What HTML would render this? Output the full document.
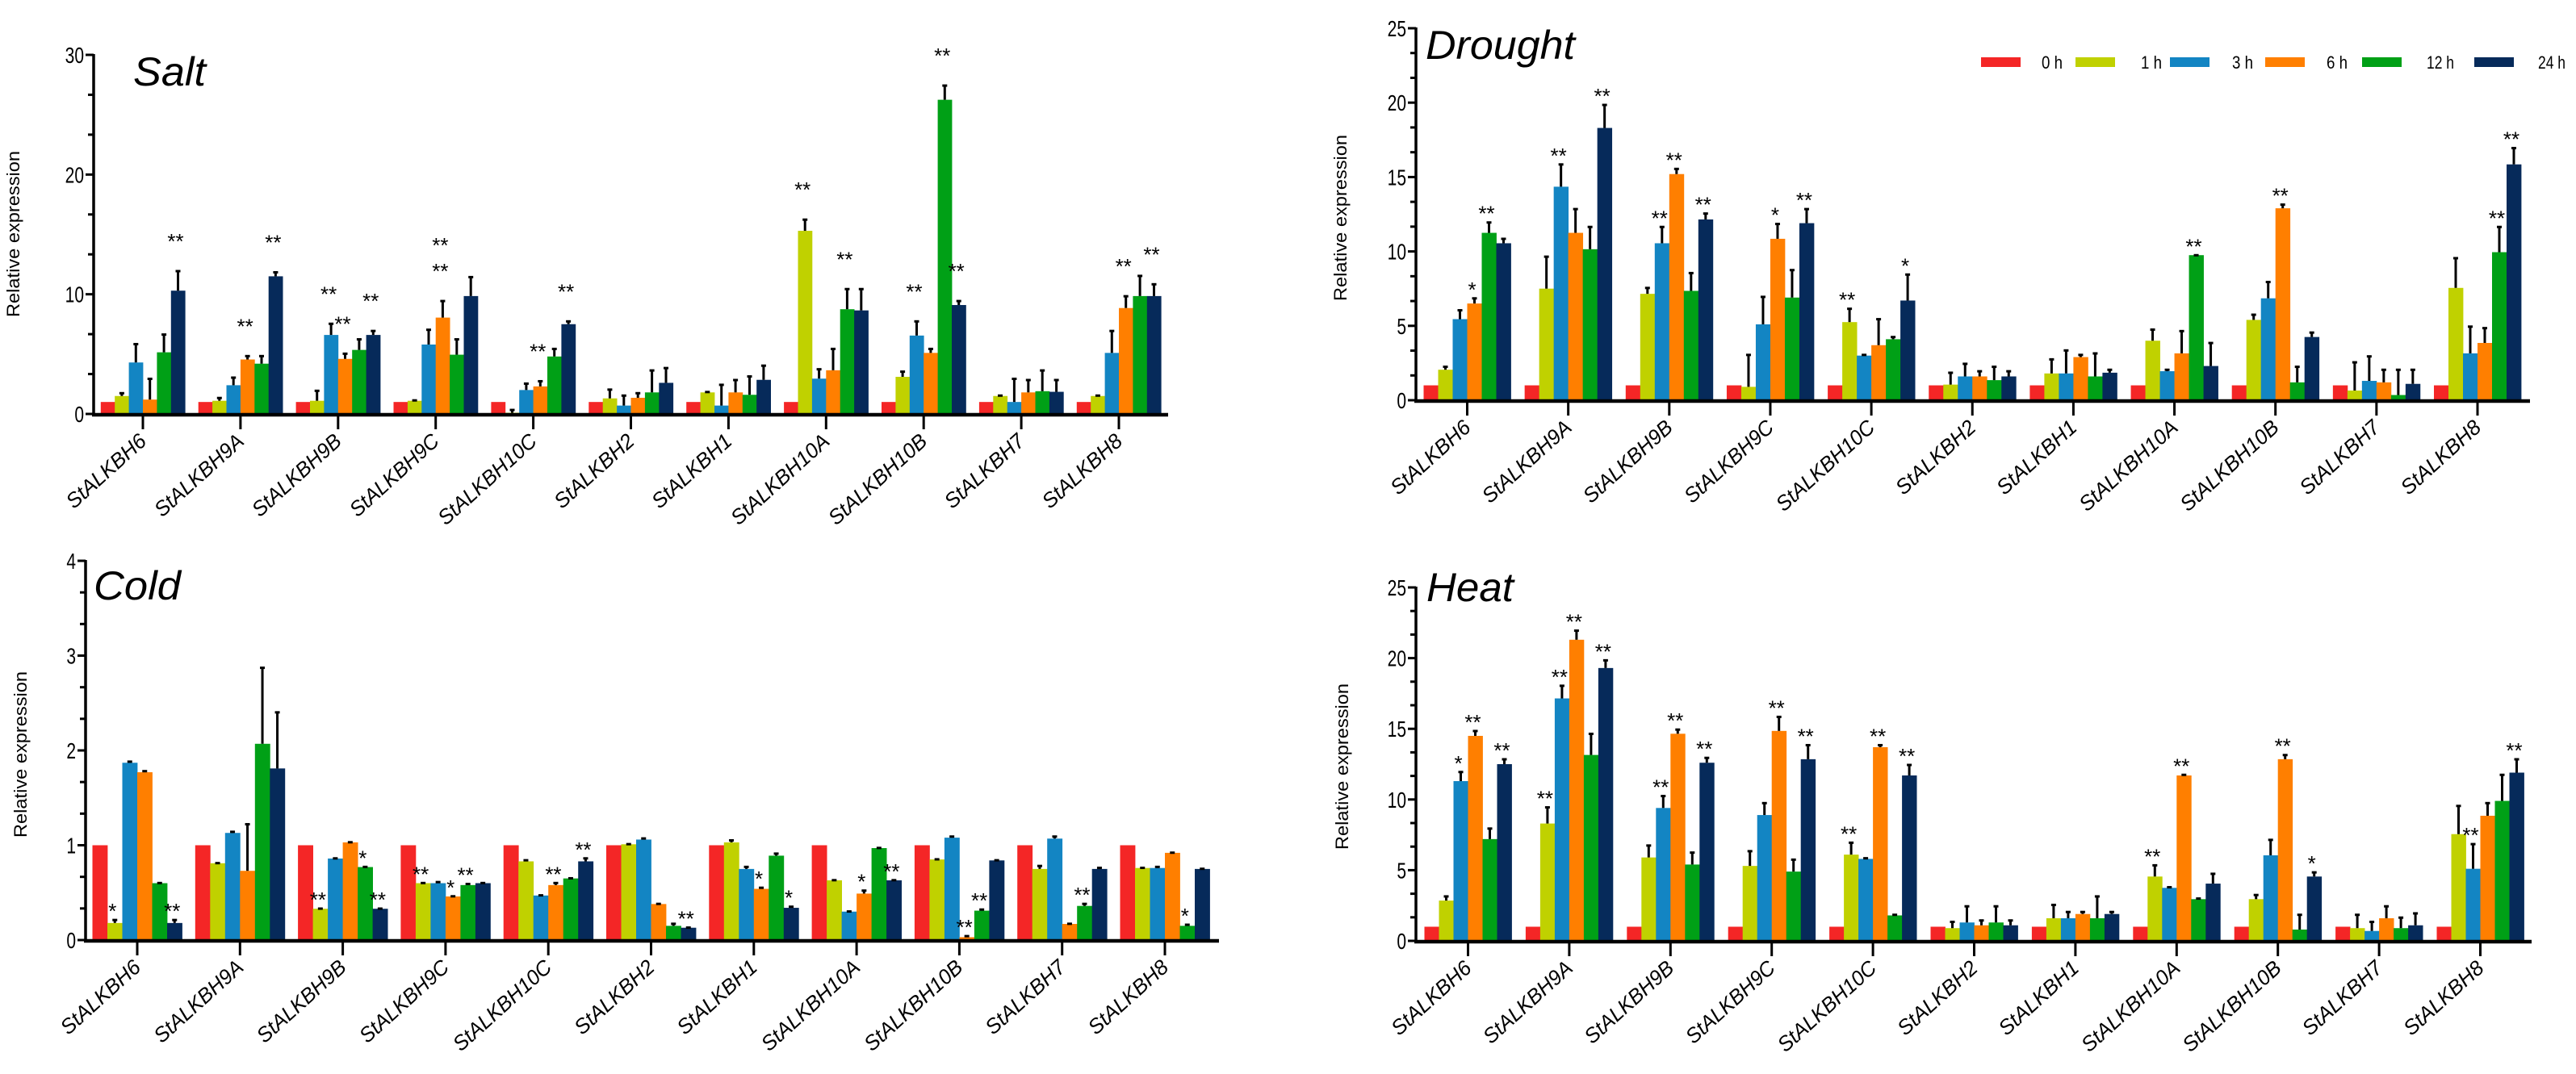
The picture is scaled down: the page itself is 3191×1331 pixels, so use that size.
<!DOCTYPE html>
<html><head><meta charset="utf-8"><style>
html,body{margin:0;padding:0;background:#fff;}
svg{display:block;}
</style></head><body>
<svg id="fig" width="3191" height="1331" viewBox="0 0 3191 1331" xmlns="http://www.w3.org/2000/svg" font-family="Liberation Sans, sans-serif"></svg>
<script>
const genes = ["StALKBH6","StALKBH9A","StALKBH9B","StALKBH9C","StALKBH10C","StALKBH2","StALKBH1","StALKBH10A","StALKBH10B","StALKBH7","StALKBH8"];
const seriesNames = ["0 h","1 h","3 h","6 h","12 h","24 h"];
const seriesColors = ["#f42626","#c0d100","#1385c3","#ff7f00","#00a016","#062a5a"];

// Salt
const saltMean = [
 [1,1,1,1,1,1,1,1,1,1,1],
 [1.5,1.1,1.1,1.1,0.1,1.3,1.8,15.3,3.1,1.5,1.5],
 [4.3,2.4,6.6,5.8,2.0,0.7,0.7,2.95,6.55,1.0,5.1],
 [1.2,4.55,4.6,8.05,2.3,1.35,1.8,3.65,5.1,1.8,8.85],
 [5.15,4.2,5.35,4.95,4.8,1.8,1.6,8.75,26.25,1.9,9.85],
 [10.3,11.5,6.6,9.85,7.5,2.6,2.85,8.65,9.1,1.85,9.85]];
const saltErr = [
 [1,1,1,1,1,1,1,1,1,1,1],
 [1.8,1.4,2.0,1.2,0.4,2.1,1.9,16.3,3.6,1.6,1.6],
 [5.9,3.1,7.6,7.1,2.6,1.6,2.5,3.8,7.8,3.0,7.0],
 [3.0,4.9,5.1,9.5,2.8,1.8,2.9,5.5,5.5,2.9,9.9],
 [6.7,4.9,6.3,6.3,5.5,3.7,3.2,10.5,27.5,3.7,11.6],
 [12.0,11.9,7.0,11.5,7.8,3.9,4.1,10.5,9.5,2.9,10.9]];
const saltStars = [
 ["","","","","","","","","","",""],
 ["","","","","","","","**","","",""],
 ["","","**","","","","","","**","",""],
 ["","**","**","**|**","**","","","","","","**"],
 ["","","","","","","","**","**","",""],
 ["**","**","**","","**","","","","**","","**"]];

// Drought
const droughtMean = [
 [1,1,1,1,1,1,1,1,1,1,1],
 [2.05,7.5,7.15,0.9,5.25,1.05,1.8,4.0,5.4,0.65,7.55],
 [5.45,14.35,10.55,5.1,3.0,1.6,1.8,1.95,6.85,1.3,3.15],
 [6.5,11.25,15.2,10.85,3.7,1.6,2.9,3.15,12.9,1.2,3.85],
 [11.25,10.15,7.35,6.9,4.1,1.35,1.6,9.75,1.2,0.35,9.95],
 [10.55,18.3,12.15,11.9,6.7,1.6,1.85,2.3,4.25,1.1,15.85]];
const droughtErr = [
 [1,1,1,1,1,1,1,1,1,1,1],
 [2.3,9.7,7.6,3.1,6.2,1.9,2.8,4.8,5.8,2.6,9.6],
 [6.1,15.9,11.7,7.0,3.1,2.5,3.4,2.1,8.0,3.0,5.0],
 [6.9,12.9,15.6,11.9,5.5,2.0,3.1,4.7,13.2,2.1,4.9],
 [12.0,11.7,8.6,8.8,4.3,2.3,3.2,9.8,2.3,2.1,11.7],
 [10.9,19.9,12.6,12.9,8.5,2.0,2.1,3.9,4.6,2.1,17.0]];
const droughtStars = [
 ["","","","","","","","","","",""],
 ["","","","","**","","","","","",""],
 ["","**","**","","","","","","","",""],
 ["*","","**","*","","","","","**","",""],
 ["**","","","","","","","**","","","**"],
 ["","**","**","**","*","","","","","","**"]];

// Cold
const coldMean = [
 [1,1,1,1,1,1,1,1,1,1,1],
 [0.18,0.81,0.33,0.6,0.83,1.01,1.03,0.63,0.85,0.75,0.76],
 [1.87,1.13,0.86,0.6,0.47,1.06,0.75,0.3,1.08,1.07,0.76],
 [1.77,0.73,1.03,0.46,0.58,0.38,0.54,0.49,0.03,0.17,0.92],
 [0.6,2.07,0.77,0.58,0.65,0.15,0.89,0.97,0.31,0.36,0.15],
 [0.18,1.81,0.33,0.6,0.83,0.13,0.34,0.63,0.84,0.75,0.75]];
const coldErr = [
 [1,1,1,1,1,1,1,1,1,1,1],
 [0.22,0.82,0.34,0.61,0.85,1.02,1.06,0.64,0.86,0.79,0.77],
 [1.89,1.15,0.87,0.62,0.48,1.08,0.78,0.31,1.1,1.1,0.78],
 [1.79,1.23,1.04,0.47,0.61,0.39,0.56,0.53,0.05,0.18,0.93],
 [0.61,2.88,0.78,0.6,0.66,0.18,0.92,0.98,0.33,0.39,0.17],
 [0.22,2.41,0.34,0.61,0.87,0.14,0.36,0.64,0.85,0.77,0.76]];
const coldStars = [
 ["","","","","","","","","","",""],
 ["*","","**","**","","","","","","",""],
 ["","","","","","","","","","",""],
 ["","","","*","**","","*","*","**","",""],
 ["","","*","**","","","","","**","**","*"],
 ["**","","**","","**","**","*","**","","",""]];

// Heat
const heatMean = [
 [1,1,1,1,1,1,1,1,1,1,1],
 [2.85,8.3,5.9,5.3,6.1,0.9,1.6,4.55,2.95,0.9,7.55],
 [11.3,17.15,9.4,8.9,5.8,1.3,1.6,3.75,6.05,0.7,5.1],
 [14.5,21.3,14.65,14.85,13.7,1.1,1.9,11.7,12.85,1.6,8.85],
 [7.2,13.15,5.4,4.9,1.8,1.3,1.6,2.95,0.8,0.9,9.9],
 [12.5,19.3,12.6,12.85,11.7,1.1,1.9,4.05,4.55,1.1,11.9]];
const heatErr = [
 [1,1,1,1,1,1,1,1,1,1,1],
 [3.2,9.5,6.8,6.4,7.0,1.4,2.6,5.4,3.3,1.9,9.6],
 [12.0,18.1,10.3,9.8,5.9,2.5,2.1,3.85,7.2,1.4,6.9],
 [14.9,22.0,15.0,15.9,13.9,1.5,2.1,11.8,13.2,2.5,9.8],
 [8.0,14.7,6.3,5.8,1.9,2.5,3.2,3.05,1.9,1.7,11.8],
 [12.9,19.9,13.0,13.9,12.5,1.5,2.1,4.8,4.9,2.0,12.9]];
const heatStars = [
 ["","","","","","","","","","",""],
 ["","**","","","**","","","**","","",""],
 ["*","**","**","","","","","","","","**"],
 ["**","**","**","**","**","","","**","**","",""],
 ["","","","","","","","","","",""],
 ["**","**","**","**","**","","","","*","","**"]];

const svg = document.getElementById('fig');
const NS = "http://www.w3.org/2000/svg";
function mk(tag, attrs, parent){
  const e = document.createElementNS(NS, tag);
  for (const k in attrs) e.setAttribute(k, attrs[k]);
  (parent||svg).appendChild(e);
  return e;
}

function drawPanel(p){
  const g = mk('g', {});
  
  
  const yS = v => p.y0 - (v / p.max) * (p.y0 - p.yTop);
  const xC = i => p.first + i * p.step;
  for (let s = 0; s < 6; s++){
    for (let i = 0; i < genes.length; i++){
      const cx = xC(i) + (s - 2.5) * p.bw;
      const v = p.mean[s][i];
      const top = yS(v);
      const r = mk('rect', {x: cx - p.bw/2, y: top, width: p.bw + 0.4, height: Math.max(0, p.y0 - top), fill: seriesColors[s]}, g);
      
      
      const et = yS(p.err[s][i]);
      if (p.err[s][i] > v){
        const l = mk('line', {x1: cx, x2: cx, y1: top, y2: et, stroke: '#000', 'stroke-width': 3}, g);
        
        
        const c = mk('line', {x1: cx - 3, x2: cx + 3, y1: et + 1, y2: et + 1, stroke: '#000', 'stroke-width': 3}, g);
        
        
      }
      const st = p.stars[s][i];
      if (st){
        const parts = st.split('|');
        parts.forEach((txt, k) => {
          const t = mk('text', {x: cx - 3, y: et - p.gap - k * 32 + 13, 'font-size': 26, 'text-anchor': 'middle', fill: '#000'}, g);
          t.textContent = txt;
          
          
        });
      }
    }
  }
  const ya = mk('line', {x1: p.ax, x2: p.ax, y1: p.yTop - 1, y2: p.y0 + 2, stroke: '#000', 'stroke-width': 3.5}, g);
  
  
  const nMinor = p.ticks.length - 1;
  for (let k = 0; k <= nMinor * 3; k++){
    const v = k * p.major / 3;
    const y = yS(v);
    const isMaj = k % 3 === 0;
    const tk = mk('line', {x1: p.ax - (isMaj ? 10 : 7), x2: p.ax, y1: y, y2: y, stroke: '#000', 'stroke-width': 3}, g);
    
    
  }
  p.ticks.forEach((lab, k) => {
    const y = yS(k * p.major);
    const t = mk('text', {x: p.ax - 12, y: y + 10, 'font-size': 28, 'text-anchor': 'end', fill: '#000', transform: 'translate(' + (p.ax - 12) + ',0) scale(0.75,1) translate(' + (-(p.ax - 12)) + ',0)'}, g);
    t.textContent = lab;
    
    
  });
  const xa = mk('line', {x1: p.ax - 2, x2: p.xEnd, y1: p.y0 + 1, y2: p.y0 + 1, stroke: '#000', 'stroke-width': 4.5}, g);
  
  
  genes.forEach((gn, i) => {
    const x = xC(i);
    const tk = mk('line', {x1: x, x2: x, y1: p.y0, y2: p.y0 + 19, stroke: '#000', 'stroke-width': 3}, g);
    
    
    const tx = x + 6, ty = p.y0 + 36;
    const t = mk('text', {x: tx, y: ty, 'font-size': 26, 'font-style': 'italic', 'text-anchor': 'end', fill: '#000', textLength: gn.length * 15.4, lengthAdjust: 'spacingAndGlyphs', transform: 'rotate(-42 ' + tx + ' ' + ty + ')'}, g);
    t.textContent = gn;
    
    
  });
  const yt = mk('text', {x: p.ytx, y: p.yty, 'font-size': 22, 'text-anchor': 'middle', fill: '#000', textLength: 206, lengthAdjust: 'spacingAndGlyphs', transform: 'rotate(-90 ' + p.ytx + ' ' + p.yty + ')'}, g);
  yt.textContent = 'Relative expression';
  
  
  const pt = mk('text', {x: p.tx, y: p.ty, 'font-size': 50, 'font-style': 'italic', fill: '#000', textLength: p.tl, lengthAdjust: 'spacingAndGlyphs'}, g);
  pt.textContent = p.title;
  
  
}

drawPanel({name:'salt', title:'Salt', mean:saltMean, err:saltErr, stars:saltStars, ticks:["0","10","20","30"], major:10, max:30,
  ax:116, y0:513, yTop:68, first:177, step:120.9, bw:17.4, xEnd:1447, gap:40, ytx:24, yty:290, tx:165, ty:106, tl:90});
drawPanel({name:'drought', title:'Drought', mean:droughtMean, err:droughtErr, stars:droughtStars, ticks:["0","5","10","15","20","25"], major:5, max:25,
  ax:1754, y0:496, yTop:35, first:1817.5, step:125.15, bw:18, xEnd:3134, gap:14, ytx:1668, yty:270, tx:1766, ty:73, tl:185});
drawPanel({name:'cold', title:'Cold', mean:coldMean, err:coldErr, stars:coldStars, ticks:["0","1","2","3","4"], major:1, max:4,
  ax:106, y0:1165, yTop:695, first:170, step:127.3, bw:18.5, xEnd:1510, gap:14, ytx:33, yty:935, tx:116, ty:743, tl:108});
drawPanel({name:'heat', title:'Heat', mean:heatMean, err:heatErr, stars:heatStars, ticks:["0","5","10","15","20","25"], major:5, max:25,
  ax:1754, y0:1166, yTop:728, first:1818.5, step:125.4, bw:18, xEnd:3136, gap:14, ytx:1670, yty:950, tx:1767, ty:745, tl:108});

const legendBoxX = [2454, 2571, 2688, 2806, 2926, 3065];
const legendTextX = [2529, 2652, 2765, 2882, 3006, 3144];
const lg = mk('g', {});


seriesNames.forEach((nm, s) => {
  const r = mk('rect', {x: legendBoxX[s], y: 71, width: 49, height: 12, fill: seriesColors[s]}, lg);
  
  
  const t = mk('text', {x: legendTextX[s], y: 85, 'font-size': 22, fill: '#000', textLength: nm.length > 3 ? 34 : 26, lengthAdjust: 'spacingAndGlyphs'}, lg);
  t.textContent = nm;
  
  
});
</script>
</body></html>
